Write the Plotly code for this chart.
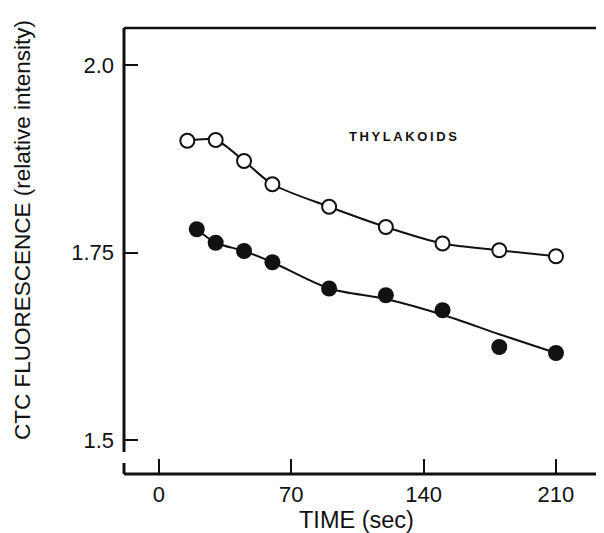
import plotly.graph_objects as go

# ---- data ----
time_open = [15, 30, 45, 60, 90, 120, 150, 180, 210]
fluor_open = [1.899, 1.900, 1.872, 1.841, 1.811, 1.784, 1.762, 1.753, 1.745]

time_filled = [20, 30, 45, 60, 90, 120, 150, 180, 210]
fluor_filled = [1.781, 1.763, 1.752, 1.737, 1.702, 1.693, 1.673, 1.624, 1.616]

# hand-drawn smooth curve through the filled points
fit_time_filled = [20, 30, 45, 60, 90, 120, 150, 180, 210]
fit_fluor_filled = [1.781, 1.763, 1.752, 1.737, 1.702, 1.688, 1.667, 1.641, 1.616]

x_ticks = [0, 70, 140, 210]
x_tick_labels = ["0", "70", "140", "210"]
y_ticks = [1.5, 1.75, 2.0]
y_tick_labels = ["1.5", "1.75", "2.0"]

FONT = "Liberation Sans, Arial, sans-serif"
INK = "#111111"

# figure sits 8px in from the page corner (default body margin)
W, H = 596, 525
ML, MT, MB, MR = 116, 20, 59, 0
PW, PH = W - ML - MR, H - MT - MB  # 480 x 446

fig = go.Figure()

fig.add_trace(go.Scatter(
    x=time_open, y=fluor_open, mode="lines+markers",
    line=dict(color=INK, width=2, shape="spline", smoothing=0.8),
    marker=dict(size=14, color="white", line=dict(color=INK, width=2)),
    showlegend=False, cliponaxis=False,
))
fig.add_trace(go.Scatter(
    x=fit_time_filled, y=fit_fluor_filled, mode="lines",
    line=dict(color=INK, width=2, shape="spline", smoothing=0.8),
    showlegend=False, cliponaxis=False,
))
fig.add_trace(go.Scatter(
    x=time_filled, y=fluor_filled, mode="markers",
    marker=dict(size=16, color=INK, line=dict(color=INK, width=0)),
    showlegend=False, cliponaxis=False,
))

fig.add_annotation(
    x=129, y=1.905, xref="x", yref="y",
    text="T\u2009H\u2009Y\u2009L\u2009A\u2009K\u2009O\u2009I\u2009D\u2009S",
    showarrow=False, font=dict(family=FONT, size=13, color=INK, weight="bold"),
)

# axis titles
fig.add_annotation(
    x=(348 - ML) / PW, y=-46 / PH, xref="paper", yref="paper",
    xanchor="center", yanchor="middle",
    text="TIME (sec)", showarrow=False,
    font=dict(family=FONT, size=23.5, color=INK),
)
fig.add_annotation(
    x=(14 - ML) / PW, y=(466 - 222) / PH, xref="paper", yref="paper",
    xanchor="center", yanchor="middle",
    text="CTC FLUORESCENCE (relative intensity)", showarrow=False, textangle=-90,
    font=dict(family=FONT, size=22.5, color=INK),
)

# frame lines (left axis with gap, top line, bottom axis with stub)
line_style = dict(color=INK, width=3)
fig.add_shape(type="line", xref="paper", yref="paper", x0=0, x1=0,
              y0=22 / PH, y1=1, line=line_style)
fig.add_shape(type="line", xref="paper", yref="paper", x0=0, x1=1,
              y0=1, y1=1, line=dict(color=INK, width=2.5))
fig.add_shape(type="line", xref="paper", yref="paper", x0=0, x1=1,
              y0=0, y1=0, line=line_style)
fig.add_shape(type="line", xref="paper", yref="paper", x0=0, x1=0,
              y0=0, y1=11 / PH, line=line_style)

fig.update_xaxes(
    range=[-18.5, 235.4], showgrid=False, zeroline=False, showline=False,
    tickmode="array", tickvals=x_ticks, ticktext=x_tick_labels,
    ticks="inside", ticklen=15, tickwidth=2, tickcolor=INK,
    tickfont=dict(family=FONT, size=22, color=INK), ticklabelstandoff=5,
)
fig.update_yaxes(
    range=[1.4547, 2.0493], showgrid=False, zeroline=False, showline=False,
    tickmode="array", tickvals=y_ticks, ticktext=y_tick_labels,
    ticks="inside", ticklen=14, tickwidth=2, tickcolor=INK,
    tickfont=dict(family=FONT, size=22, color=INK), ticklabelstandoff=9,
)

fig.update_layout(
    width=W, height=H,
    margin=dict(l=ML, r=MR, t=MT, b=MB, pad=0),
    paper_bgcolor="white", plot_bgcolor="white",
)

fig.write_html("out.html")
